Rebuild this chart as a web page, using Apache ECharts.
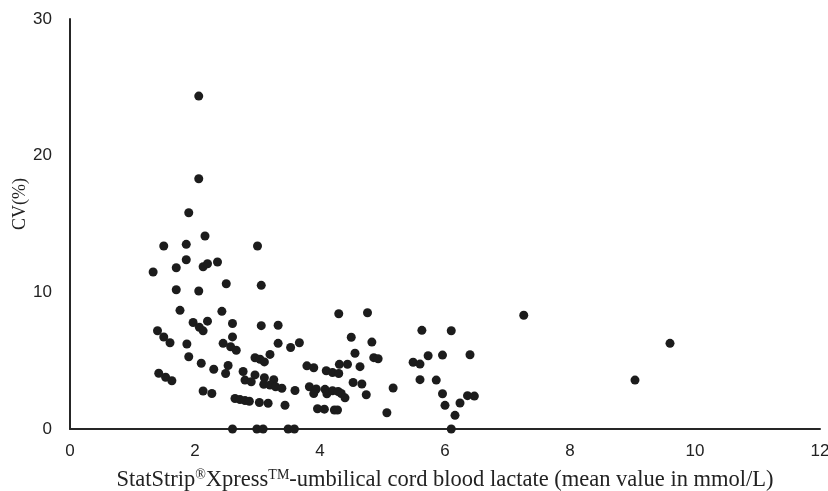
<!DOCTYPE html>
<html>
<head>
<meta charset="utf-8">
<script src="https://cdn.jsdelivr.net/npm/echarts@6/dist/echarts.min.js"></script>
<style>
  html, body { margin: 0; padding: 0; background: #fff; }
  #chart { width: 828px; height: 491px; }
</style>
</head>
<body>
<div id="chart"></div>
<script>
// lactate mean (mmol/L) and CV (%)
const lactate = [
  2.06, 2.06, 1.90, 2.16, 1.50, 1.86, 3.00, 1.86, 1.70, 2.13,
  2.20, 2.36, 1.33, 2.50, 3.06, 1.70, 2.06, 1.76, 2.43, 1.97,
  2.07, 2.13, 2.20, 2.60, 3.06, 3.33, 1.40, 1.50, 1.60, 1.87,
  2.60, 2.45, 2.57, 2.66, 3.33, 3.53, 3.67, 1.90, 2.96, 3.04,
  3.11, 3.20, 2.10, 2.30, 2.53, 2.49, 2.77, 2.96, 2.80, 2.90,
  1.42, 1.53, 1.63, 3.11, 3.26, 3.10, 3.20, 3.29, 3.39, 3.60,
  3.79, 3.90, 3.83, 3.94, 3.90, 3.96, 4.07, 2.13, 2.27, 2.64,
  2.72, 2.80, 2.87, 3.03, 3.17, 3.44, 2.60, 2.99, 3.09, 3.49,
  3.59, 6.10, 4.30, 4.76, 4.50, 4.83, 4.56, 4.86, 4.93, 4.10,
  4.20, 4.30, 4.31, 4.44, 4.64, 4.08, 4.11, 4.20, 4.29, 4.34,
  4.40, 4.53, 4.67, 4.74, 4.23, 4.28, 5.17, 5.07, 5.63, 6.10,
  5.73, 5.96, 6.40, 5.49, 5.60, 5.60, 5.86, 5.96, 6.00, 6.24,
  6.36, 6.47, 6.16, 7.26, 9.60, 9.04
];
const cv = [
  24.36, 18.31, 15.82, 14.12, 13.39, 13.51, 13.39, 12.38, 11.80, 11.87,
  12.09, 12.22, 11.49, 10.63, 10.51, 10.19, 10.10, 8.68, 8.61, 7.79,
  7.44, 7.18, 7.89, 7.72, 7.56, 7.59, 7.19, 6.73, 6.31, 6.22,
  6.74, 6.27, 6.02, 5.76, 6.27, 5.96, 6.31, 5.29, 5.21, 5.10,
  4.91, 5.46, 4.81, 4.37, 4.65, 4.06, 4.21, 3.96, 3.58, 3.45,
  4.08, 3.79, 3.53, 3.75, 3.61, 3.27, 3.22, 3.09, 2.98, 2.82,
  4.62, 4.48, 3.09, 2.93, 2.59, 1.48, 1.45, 2.78, 2.60, 2.23,
  2.15, 2.08, 2.03, 1.94, 1.88, 1.74, 0, 0, 0, 0,
  0, 0, 8.43, 8.51, 6.71, 6.36, 5.54, 5.22, 5.14, 4.26,
  4.13, 4.06, 4.73, 4.74, 4.56, 2.90, 2.58, 2.80, 2.74, 2.60,
  2.28, 3.40, 3.29, 2.51, 1.39, 1.39, 3.00, 1.19, 7.22, 7.19,
  5.36, 5.41, 5.43, 4.88, 4.75, 3.61, 3.58, 2.58, 1.73, 1.90,
  2.44, 2.41, 1.00, 8.32, 6.27, 3.58
];
const xTicks = [0, 2, 4, 6, 8, 10, 12];
const yTicks = [0, 10, 20, 30];

const chart = echarts.init(document.getElementById("chart"));

const tickFont = "'Liberation Sans', Arial, sans-serif";

const option = {
  animation: false,
  grid: {
    left: 70,
    right: 8,
    top: 19,
    bottom: 62,
    outerBoundsMode: "none",
  },
  xAxis: {
    type: "value",
    min: xTicks[0],
    max: xTicks[xTicks.length - 1],
    interval: 2,
    name: "StatStrip{sup|®}Xpress{sup|TM}-umbilical cord blood lactate (mean value in mmol/L)",
    nameLocation: "middle",
    nameGap: 39,
    nameTextStyle: {
      fontFamily: "Liberation Serif",
      fontSize: 22.5,
      color: "#222",
      rich: {
        sup: {
          fontFamily: "Liberation Serif",
          fontSize: 14,
          color: "#222",
          padding: [0, 0, 10, 0],
        },
      },
    },
    axisLine: { show: true, onZero: false, lineStyle: { color: "#262626", width: 2 } },
    axisTick: { show: false },
    splitLine: { show: false },
    axisLabel: {
      margin: 14,
      fontFamily: tickFont,
      fontSize: 17,
      color: "#222",
    },
  },
  yAxis: {
    type: "value",
    min: yTicks[0],
    max: yTicks[yTicks.length - 1],
    interval: 10,
    axisLine: { show: true, lineStyle: { color: "#262626", width: 2 } },
    axisTick: { show: false },
    splitLine: { show: false },
    axisLabel: {
      margin: 18,
      fontFamily: tickFont,
      fontSize: 17,
      color: "#222",
    },
  },
  graphic: [
    {
      type: "text",
      x: 20,
      y: 204,
      rotation: Math.PI / 2,
      style: {
        text: "CV(%)",
        font: "18px 'Liberation Serif'",
        fill: "#222",
        align: "center",
        verticalAlign: "middle",
      },
    },
  ],
  series: [
    {
      type: "scatter",
      data: lactate.map((x, i) => [x, cv[i]]),
      symbol: "circle",
      symbolSize: 9,
      itemStyle: { color: "#1c1c1c", opacity: 1 },
    },
  ],
};

chart.setOption(option);
</script>
</body>
</html>
